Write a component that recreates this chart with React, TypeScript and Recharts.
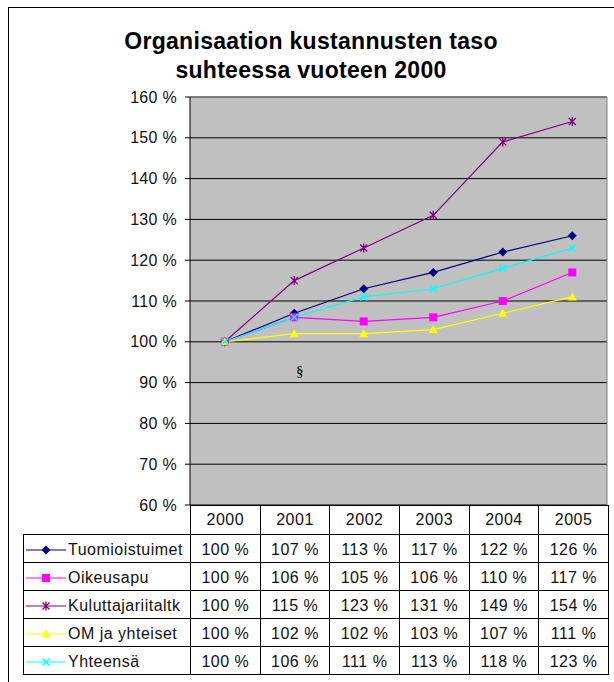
import { LineChart, Line, XAxis, YAxis, CartesianGrid, ReferenceLine } from "recharts";

const FONT = "'Liberation Sans', Arial, sans-serif";

const years = [2000, 2001, 2002, 2003, 2004, 2005];
const tuomioistuimet = [100, 107, 113, 117, 122, 126];
const oikeusapu = [100, 106, 105, 106, 110, 117];
const kuluttajariitaltk = [100, 115, 123, 131, 149, 154];
const omJaYhteiset = [100, 102, 102, 103, 107, 111];
const yhteensa = [100, 106, 111, 113, 118, 123];
const yTicks = [60, 70, 80, 90, 100, 110, 120, 130, 140, 150, 160];

type Shape = "diamond" | "square" | "star" | "triangle" | "cross";

const series: { key: string; name: string; values: number[]; color: string; shape: Shape }[] = [
  { key: "tuomioistuimet", name: "Tuomioistuimet", values: tuomioistuimet, color: "#000080", shape: "diamond" },
  { key: "oikeusapu", name: "Oikeusapu", values: oikeusapu, color: "#FF00FF", shape: "square" },
  { key: "kuluttajariitaltk", name: "Kuluttajariitaltk", values: kuluttajariitaltk, color: "#800080", shape: "star" },
  { key: "omJaYhteiset", name: "OM ja yhteiset", values: omJaYhteiset, color: "#FFFF00", shape: "triangle" },
  { key: "yhteensa", name: "Yhteensä", values: yhteensa, color: "#00FFFF", shape: "cross" },
];

const data = years.map((year, i) => {
  const row: Record<string, number> = { year };
  series.forEach((s) => {
    row[s.key] = s.values[i];
  });
  return row;
});

function Marker({ cx, cy, shape, color }: { cx: number; cy: number; shape: Shape; color: string }) {
  switch (shape) {
    case "diamond":
      return <path d={`M${cx},${cy - 4.5}L${cx + 4.5},${cy}L${cx},${cy + 4.5}L${cx - 4.5},${cy}Z`} fill={color} />;
    case "square":
      return <rect x={cx - 4} y={cy - 4} width={8} height={8} fill={color} />;
    case "triangle":
      return <path d={`M${cx},${cy - 4.5}L${cx + 4.5},${cy + 3.5}L${cx - 4.5},${cy + 3.5}Z`} fill={color} />;
    case "star":
      return (
        <path
          d={`M${cx - 3.5},${cy - 3.5}L${cx + 3.5},${cy + 3.5}M${cx - 3.5},${cy + 3.5}L${cx + 3.5},${cy - 3.5}M${cx},${cy - 4.5}L${cx},${cy + 4.5}`}
          stroke={color}
          strokeWidth={1.3}
          fill="none"
        />
      );
    default:
      return (
        <path
          d={`M${cx - 3.5},${cy - 3.5}L${cx + 3.5},${cy + 3.5}M${cx - 3.5},${cy + 3.5}L${cx + 3.5},${cy - 3.5}`}
          stroke={color}
          strokeWidth={1.5}
          fill="none"
        />
      );
  }
}

const cell: React.CSSProperties = {
  border: "1px solid #000",
  padding: 0,
  textAlign: "center",
  fontSize: 16,
  letterSpacing: 0.5,
  whiteSpace: "nowrap",
  color: "#111",
};

export default function App() {
  return (
    <div style={{ position: "relative", width: 614, height: 682, overflow: "hidden", background: "#fff", fontFamily: FONT, color: "#000" }}>
      <style>{`body{margin:0}`}</style>
      <div style={{ position: "absolute", left: 8, top: 7, width: 640, height: 700, border: "1px solid #000", boxSizing: "border-box" }} />
      <div
        style={{
          position: "absolute",
          left: 4,
          top: 27,
          width: 614,
          textAlign: "center",
          fontWeight: "bold",
          fontSize: 23,
          lineHeight: "29px",
          letterSpacing: 0.3,
        }}
      >
        Organisaation kustannusten taso
        <br />
        suhteessa vuoteen 2000
      </div>
      <div style={{ position: "absolute", left: 0, top: 0 }}>
        <LineChart width={614} height={682} data={data} margin={{ top: 97, right: 7, bottom: 177, left: 130 }}>
          <CartesianGrid vertical={false} stroke="#000" fill="#C0C0C0" fillOpacity={1} />
          <XAxis type="number" dataKey="year" domain={[1999.5, 2005.5]} hide />
          <YAxis
            domain={[60, 160]}
            ticks={yTicks}
            interval={0}
            width={60}
            tickFormatter={(v: number) => `${v} %`}
            tick={{ fill: "#111", fontSize: 16, fontFamily: FONT, letterSpacing: 0.3 }}
            tickSize={5}
            tickMargin={8}
            tickLine={{ stroke: "#000" }}
            axisLine={{ stroke: "#000" }}
          />
          <ReferenceLine y={160} stroke="#808080" />
          <ReferenceLine x={2005.5} stroke="#808080" />
          {series.map((s) => (
            <Line
              key={s.key}
              type="linear"
              dataKey={s.key}
              stroke={s.color}
              strokeWidth={1.2}
              dot={(p: any) => <Marker key={`${s.key}-${p.index}`} cx={p.cx} cy={p.cy} shape={s.shape} color={s.color} />}
              activeDot={false}
              isAnimationActive={false}
            />
          ))}
        </LineChart>
      </div>
      <div style={{ position: "absolute", left: 296, top: 363, fontFamily: "'Liberation Serif', 'DejaVu Serif', serif", fontSize: 15 }}>§</div>
      <table
        style={{
          position: "absolute",
          left: 23,
          top: 505,
          borderCollapse: "collapse",
          tableLayout: "fixed",
          width: 585,
        }}
      >
        <colgroup>
          <col style={{ width: 167 }} />
          {years.map((y) => (
            <col key={y} style={{ width: 69.67 }} />
          ))}
        </colgroup>
        <tbody>
          <tr style={{ height: 29 }}>
            <td style={{ border: "none", padding: 0 }} />
            {years.map((y) => (
              <td key={y} style={cell}>
                {y}
              </td>
            ))}
          </tr>
          {series.map((s) => (
            <tr key={s.key} style={{ height: 28 }}>
              <td style={{ ...cell, textAlign: "left" }}>
                <div style={{ display: "flex", alignItems: "center", paddingTop: 2 }}>
                  <svg width={40} height={14} style={{ marginLeft: 2, marginRight: 2, flex: "none" }}>
                    <line x1={0} y1={7} x2={40} y2={7} stroke={s.color} strokeWidth={1.2} />
                    <Marker cx={20} cy={7} shape={s.shape} color={s.color} />
                  </svg>
                  <span>{s.name}</span>
                </div>
              </td>
              {s.values.map((v, i) => (
                <td key={i} style={{ ...cell, paddingTop: 2 }}>
                  {`${v} %`}
                </td>
              ))}
            </tr>
          ))}
        </tbody>
      </table>
    </div>
  );
}
